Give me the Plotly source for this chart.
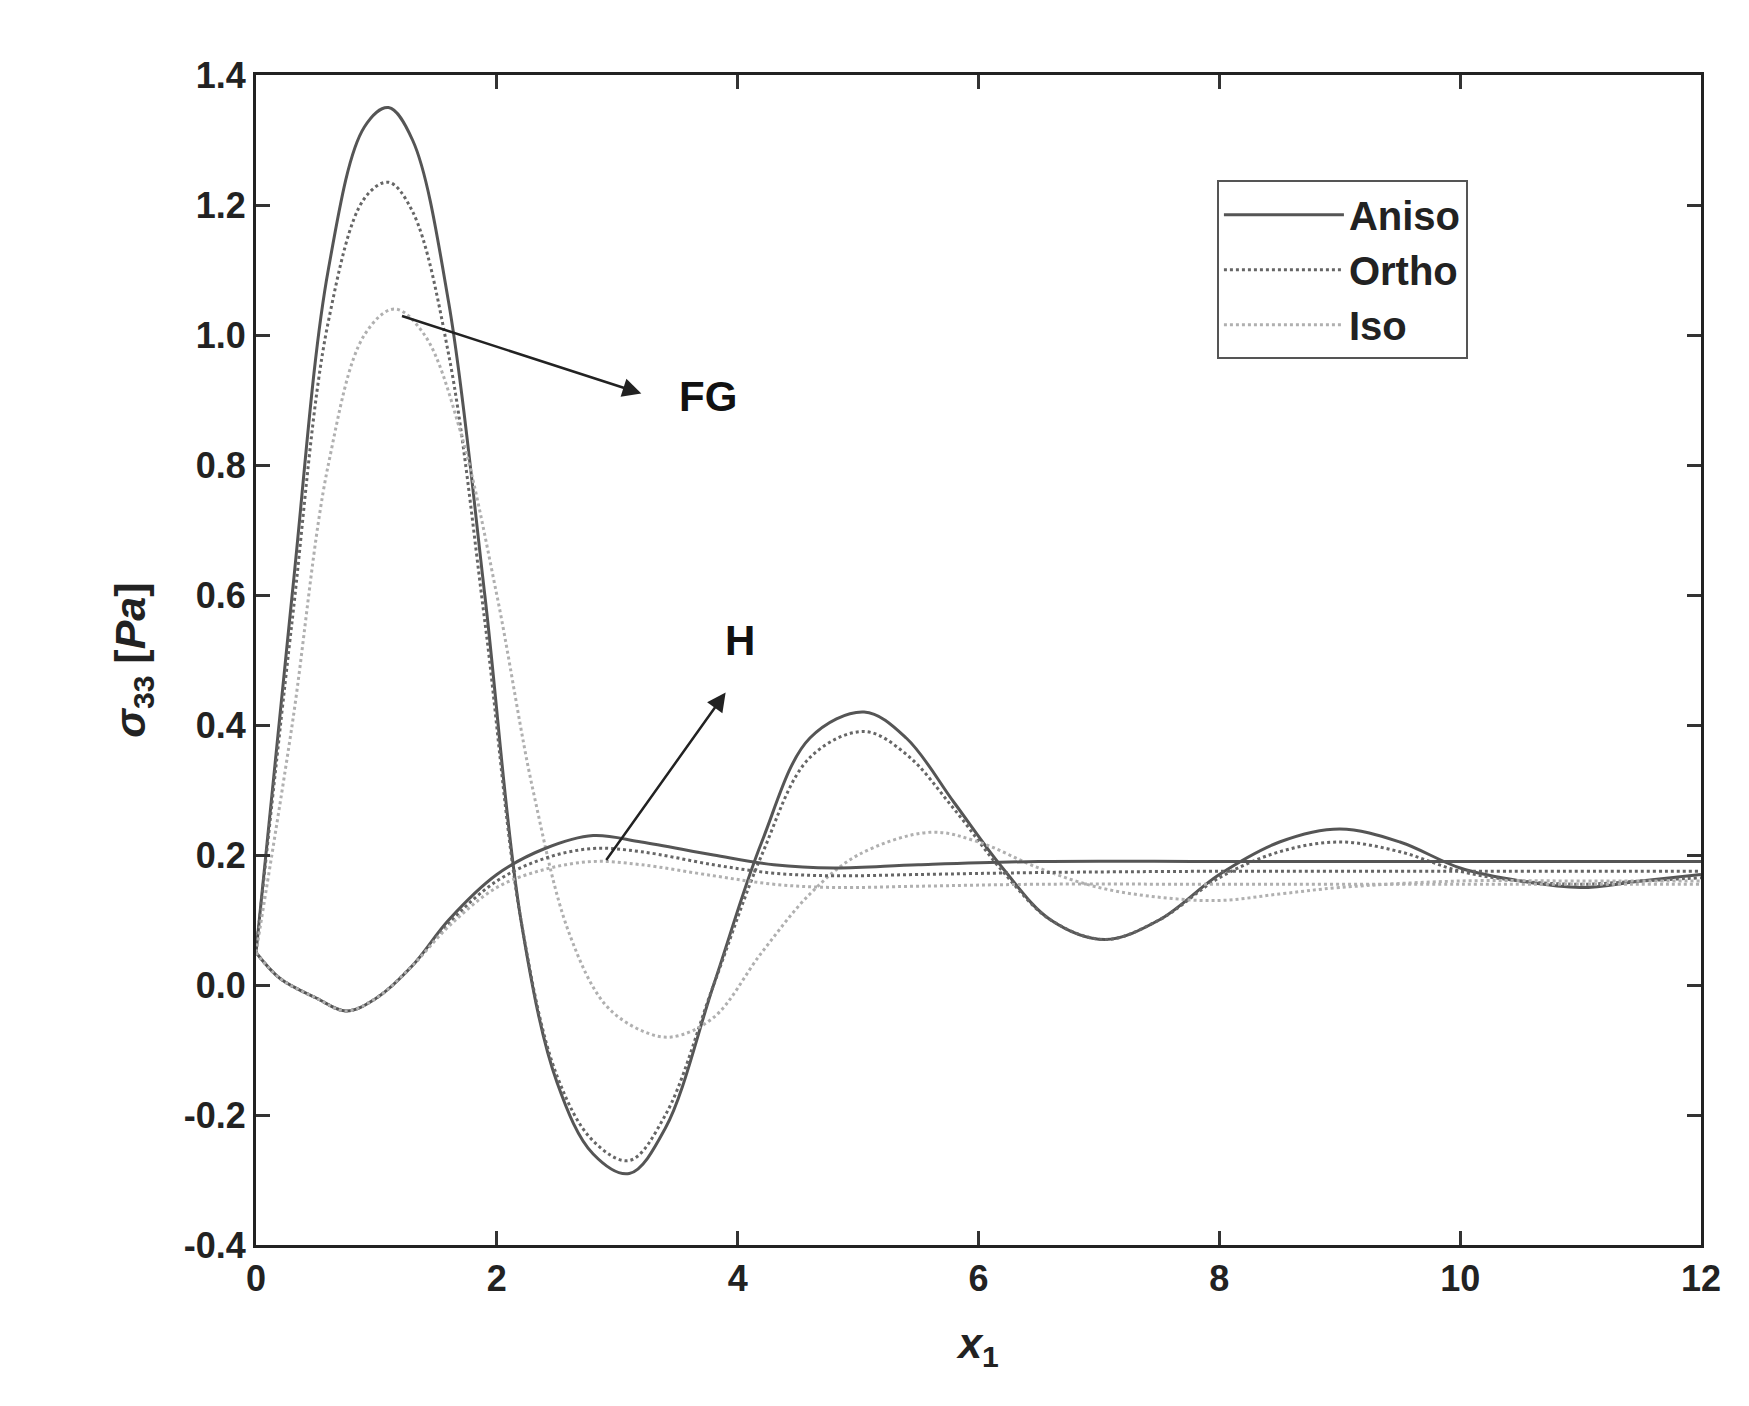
import plotly.graph_objects as go

# FG curves
x_fg = [0, 0.3, 0.6, 0.9, 1.1, 1.3, 1.6, 1.9, 2.2, 2.5, 2.8, 3.1, 3.4, 3.8, 4.2, 4.6, 5.05,
        5.4, 5.8, 6.2, 6.6, 7.05, 7.5, 8.0, 8.5, 9.0, 9.5, 10.0, 10.5, 11.0, 11.5, 12.0]
fg_aniso = [0.05, 0.6, 1.1, 1.32, 1.35, 1.3, 1.05, 0.6, 0.1, -0.15, -0.26, -0.29, -0.22, 0.0, 0.22,
            0.38, 0.42, 0.38, 0.28, 0.18, 0.1, 0.07, 0.1, 0.17, 0.22, 0.24, 0.22, 0.18, 0.16,
            0.15, 0.16, 0.17]
fg_ortho = [0.05, 0.56, 1.02, 1.21, 1.235, 1.19, 0.97, 0.56, 0.1, -0.14, -0.24, -0.27, -0.2, 0.0,
            0.2, 0.35, 0.39, 0.355, 0.27, 0.175, 0.1, 0.07, 0.1, 0.165, 0.205, 0.22, 0.205,
            0.175, 0.16, 0.155, 0.16, 0.165]
x_fg_iso = [0, 0.3, 0.6, 0.9, 1.15, 1.4, 1.7, 2.0, 2.3, 2.6, 2.9, 3.2, 3.45, 3.8, 4.2, 4.6, 5.0,
            5.6, 6.0, 6.5, 7.0, 7.5, 8.0, 8.5, 9.0, 10.0, 11.0, 12.0]
fg_iso = [0.05, 0.4, 0.8, 1.0, 1.04, 1.0, 0.85, 0.6, 0.3, 0.08, -0.03, -0.07, -0.08, -0.05, 0.05,
          0.14, 0.2, 0.235, 0.22, 0.18, 0.15, 0.135, 0.13, 0.14, 0.15, 0.16, 0.16, 0.16]

# H curves
x_h = [0, 0.2, 0.5, 0.75, 1.0, 1.3, 1.6, 2.0, 2.4, 2.8, 3.2, 3.8, 4.3, 4.8, 5.5, 6.5, 8.0, 10.0, 12.0]
h_aniso = [0.05, 0.01, -0.02, -0.04, -0.02, 0.03, 0.1, 0.17, 0.21, 0.23, 0.22, 0.2, 0.185, 0.18,
           0.185, 0.19, 0.19, 0.19, 0.19]
h_ortho = [0.05, 0.01, -0.02, -0.04, -0.02, 0.03, 0.095, 0.16, 0.195, 0.21, 0.205, 0.185, 0.172,
           0.168, 0.17, 0.173, 0.175, 0.175, 0.175]
h_iso = [0.05, 0.01, -0.02, -0.04, -0.02, 0.03, 0.09, 0.15, 0.178, 0.19, 0.185, 0.168, 0.155,
         0.15, 0.152, 0.155, 0.155, 0.155, 0.155]

y_ticks = [-0.4, -0.2, 0.0, 0.2, 0.4, 0.6, 0.8, 1.0, 1.2, 1.4]
y_labels = ["-0.4", "-0.2", "0.0", "0.2", "0.4", "0.6", "0.8", "1.0", "1.2", "1.4"]

aniso = dict(color="#555555", width=3, dash="solid")
ortho = dict(color="#666666", width=3, dash="dot")
iso = dict(color="#b0b0b0", width=3, dash="dot")

fig = go.Figure()
fig.add_trace(go.Scatter(x=x_fg, y=fg_aniso, mode="lines", line_shape="spline", line=aniso, name="Aniso"))
fig.add_trace(go.Scatter(x=x_fg, y=fg_ortho, mode="lines", line_shape="spline", line=ortho, name="Ortho"))
fig.add_trace(go.Scatter(x=x_fg_iso, y=fg_iso, mode="lines", line_shape="spline", line=iso, name="Iso"))
fig.add_trace(go.Scatter(x=x_h, y=h_aniso, mode="lines", line_shape="spline", line=aniso, showlegend=False))
fig.add_trace(go.Scatter(x=x_h, y=h_ortho, mode="lines", line_shape="spline", line=ortho, showlegend=False))
fig.add_trace(go.Scatter(x=x_h, y=h_iso, mode="lines", line_shape="spline", line=iso, showlegend=False))

fig.add_annotation(x=3.2, y=0.91, ax=1.2, ay=1.03, xref="x", yref="y", axref="x", ayref="y",
                   showarrow=True, arrowhead=2, arrowsize=1.5, arrowwidth=2.5, arrowcolor="#222", text="")
fig.add_annotation(x=3.75, y=0.905, text="<b>FG</b>", showarrow=False, font=dict(size=42, color="#111"))
fig.add_annotation(x=3.9, y=0.45, ax=2.9, ay=0.19, xref="x", yref="y", axref="x", ayref="y",
                   showarrow=True, arrowhead=2, arrowsize=1.5, arrowwidth=2.5, arrowcolor="#222", text="")
fig.add_annotation(x=4.02, y=0.53, text="<b>H</b>", showarrow=False, font=dict(size=42, color="#111"))

axis_common = dict(showgrid=False, zeroline=False, showline=True, linecolor="#222", linewidth=3,
                   mirror="ticks", ticks="inside", ticklen=14, tickwidth=3, tickcolor="#333")
fig.update_layout(
    width=1749, height=1406, template="plotly_white",
    font=dict(family="Liberation Sans", size=36, color="#222", weight="bold"),
    margin=dict(l=248, r=56, t=67, b=169),
    xaxis=dict(range=[0, 12], dtick=2, title=dict(text="<b><i>x</i><sub>1</sub></b>", standoff=30), **axis_common),
    yaxis=dict(range=[-0.4, 1.4], tickmode="array", tickvals=y_ticks, ticktext=y_labels,
               title=dict(text="<b><i>σ</i><sub>33</sub> [<i>Pa</i>]</b>", standoff=25), **axis_common),
    legend=dict(x=0.665, y=0.91, xanchor="left", yanchor="top", bordercolor="#555", borderwidth=2,
                bgcolor="white", font=dict(size=40), itemwidth=120, tracegroupgap=14),
)
fig.write_html("out.html")
